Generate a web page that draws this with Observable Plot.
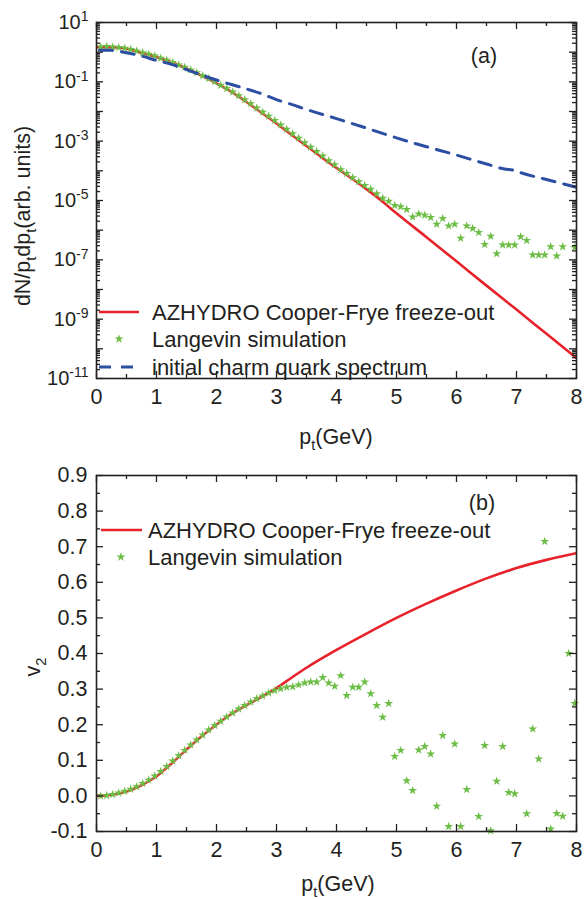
<!DOCTYPE html>
<html><head><meta charset="utf-8">
<script src="https://cdn.jsdelivr.net/npm/d3@7"></script>
<script src="https://cdn.jsdelivr.net/npm/@observablehq/plot@0.6"></script>
<style>
body{margin:0;background:#fff;}
#wrap{position:relative;width:584px;height:899px;overflow:hidden;}
#wrap svg{position:absolute;left:0;overflow:visible;}
</style></head><body><div id="wrap"></div>
<script>
// ---------- DATA ----------
// Langevin simulation points (common pt grid, GeV)
const ptStar = [0.07,0.17,0.27,0.37,0.47,0.57,0.67,0.77,0.87,0.97,1.07,1.17,1.27,1.37,1.47,1.57,1.67,1.77,1.87,1.97,
  2.07,2.17,2.27,2.37,2.47,2.57,2.67,2.77,2.87,2.97,3.07,3.17,3.27,3.37,3.47,3.57,3.67,3.77,3.87,3.97,
  4.07,4.17,4.27,4.37,4.47,4.57,4.67,4.77,4.87,4.97,5.07,5.17,5.27,5.37,5.47,5.57,5.67,5.77,5.87,5.97,
  6.07,6.17,6.27,6.37,6.47,6.57,6.67,6.77,6.87,6.97,7.07,7.17,7.27,7.37,7.47,7.57,7.67,7.77,7.87,7.97];
// panel (a): dN/ptdpt of Langevin simulation (null = not visible)
const spectrumStar = [1.51,1.55,1.51,1.45,1.35,1.23,1.10,0.955,0.851,0.741,0.631,0.537,0.447,0.372,0.309,0.251,0.204,0.162,0.129,0.100,
  0.0776,0.0603,0.0457,0.0339,0.0251,0.0182,0.0132,9.55e-3,6.92e-3,5.01e-3,3.55e-3,2.51e-3,1.78e-3,1.26e-3,8.9e-4,6.3e-4,4.5e-4,3.2e-4,2.2e-4,1.6e-4,
  1.1e-4,8.1e-5,5.9e-5,4.3e-5,3.2e-5,2.4e-5,1.7e-5,1.2e-5,9.5e-6,6.8e-6,6.2e-6,5.0e-6,2.8e-6,3.5e-6,3.2e-6,2.7e-6,1.6e-6,2.5e-6,1.4e-6,1.6e-6,
  5.4e-7,1.4e-6,1.15e-6,8.3e-7,3.3e-7,6.3e-7,1.6e-7,3.2e-7,3.2e-7,3.2e-7,6.0e-7,4.5e-7,1.45e-7,1.45e-7,1.45e-7,2.75e-7,1.35e-7,2.75e-7,null,2.6e-7];
// panel (b): v2 of Langevin simulation (null = outside the frame)
const v2Star = [0.000,0.001,0.004,0.008,0.013,0.019,0.026,0.035,0.045,0.056,0.069,0.083,0.098,0.113,0.128,0.143,0.157,0.171,0.185,0.198,
  0.210,0.222,0.233,0.244,0.254,0.264,0.273,0.281,0.289,0.296,0.301,0.305,0.307,0.312,0.317,0.320,0.320,0.333,0.317,0.308,
  0.338,0.282,0.305,0.305,0.320,0.287,0.254,0.221,0.260,0.111,0.128,0.043,0.015,0.129,0.139,0.118,-0.029,0.170,-0.086,0.146,
  -0.086,0.018,null,-0.058,0.142,-0.098,0.041,0.139,0.010,0.006,null,-0.050,0.188,0.104,0.715,-0.093,-0.049,-0.057,0.400,0.260];

// AZHYDRO Cooper-Frye freeze-out, spectrum (a)
const ptHydroA = [0,0.25,0.5,0.75,1,1.25,1.5,1.75,2,2.25,2.5,2.75,3,3.25,3.5,3.75,4,4.25,4.5,4.75,5,5.5,6,6.5,7,7.5,8];
const spectrumHydro = [1.48,1.48,1.32,0.955,0.692,0.457,0.282,0.162,0.0891,0.0457,0.0209,9.1e-3,3.98e-3,1.66e-3,6.9e-4,2.9e-4,1.26e-4,5.6e-5,2.4e-5,9.8e-6,3.7e-6,5.8e-7,8.9e-8,1.35e-8,2.1e-9,3.2e-10,4.9e-11];
// initial charm quark spectrum (a)
const ptInit = [0.05,0.25,0.5,0.75,1,1.25,1.5,1.75,2,2.25,2.5,2.75,3,3.25,3.5,4,4.5,5,5.5,6,6.5,6.8,6.95,7.1,7.5,8];
const spectrumInit = [1.15,1.15,0.955,0.741,0.525,0.389,0.257,0.17,0.115,0.0813,0.0575,0.0398,0.0251,0.0174,0.0117,5.75e-3,2.75e-3,1.29e-3,6.5e-4,3.4e-4,1.7e-4,1.15e-4,1.05e-4,8.3e-5,5.1e-5,2.8e-5];
// AZHYDRO v2 (b)
const ptHydroB = [0,0.25,0.5,0.75,1,1.25,1.5,1.75,2,2.25,2.5,2.75,3,3.25,3.5,4,4.5,5,5.5,6,6.5,7,7.5,8];
const v2Hydro = [0,0.003,0.012,0.03,0.055,0.091,0.13,0.167,0.2,0.23,0.255,0.278,0.303,0.332,0.36,0.41,0.456,0.5,0.54,0.577,0.611,0.64,0.663,0.682];

const xTicks = [0,1,2,3,4,5,6,7,8];
const xMinor = [0.5,1.5,2.5,3.5,4.5,5.5,6.5,7.5];
const logLabelTicks = [1e1,1e-1,1e-3,1e-5,1e-7,1e-9,1e-11];
const logMajor = [1e1,1,1e-1,1e-2,1e-3,1e-4,1e-5,1e-6,1e-7,1e-8,1e-9,1e-10,1e-11];
const logMinorFactors = [2,3,4,5,6,7,8,9];
const v2Ticks = [-0.1,0.0,0.1,0.2,0.3,0.4,0.5,0.6,0.7,0.8,0.9];
const v2Minor = [-0.05,0.05,0.15,0.25,0.35,0.45,0.55,0.65,0.75,0.85];

const legendA = ["AZHYDRO Cooper-Frye freeze-out","Langevin simulation","initial charm quark spectrum"];
const legendB = ["AZHYDRO Cooper-Frye freeze-out","Langevin simulation"];

// ---------- STYLE ----------
const FONT = "'Liberation Sans', Arial, Helvetica, sans-serif";
const INK = "#231f20";
const RED = "#e8222a";
const BLUE = "#2c4ea3";
const GREEN = "#6cbd45";
const W = 584, ML = 96, MR = 8;
const innerW = W - ML - MR;

const logMinor = [];
logMajor.slice(1).forEach(d => logMinorFactors.forEach(f => logMinor.push(d * f)));

const starsA = ptStar.map((p, i) => ({pt: p, v: spectrumStar[i]})).filter(d => d.v != null);
const starsB = ptStar.map((p, i) => ({pt: p, v: v2Star[i]})).filter(d => d.v != null);
const hydroA = ptHydroA.map((p, i) => ({pt: p, v: spectrumHydro[i]}));
const initA = ptInit.map((p, i) => ({pt: p, v: spectrumInit[i]}));
const hydroB = ptHydroB.map((p, i) => ({pt: p, v: v2Hydro[i]}));

function tickMarks(innerH, yMaj, yMin) {
  const s = {stroke: INK, strokeWidth: 1.3};
  return [
    Plot.tickX(xTicks, {x: d => d, insetTop: innerH - 7, ...s}),
    Plot.tickX(xTicks, {x: d => d, insetBottom: innerH - 7, ...s}),
    Plot.tickX(xMinor, {x: d => d, insetTop: innerH - 4, ...s}),
    Plot.tickX(xMinor, {x: d => d, insetBottom: innerH - 4, ...s}),
    Plot.tickY(yMaj, {y: d => d, insetRight: innerW - 7, ...s}),
    Plot.tickY(yMaj, {y: d => d, insetLeft: innerW - 7, ...s}),
    Plot.tickY(yMin, {y: d => d, insetRight: innerW - 4, ...s}),
    Plot.tickY(yMin, {y: d => d, insetLeft: innerW - 4, ...s})
  ];
}

// ---------- PANEL (a) ----------
const HA = 450, MTA = 22, MBA = 72, innerHA = HA - MTA - MBA;
const chartA = Plot.plot({
  width: W, height: HA, marginTop: MTA, marginBottom: MBA, marginLeft: ML, marginRight: MR,
  style: {fontFamily: FONT, color: INK, background: "transparent", overflow: "visible"},
  x: {domain: [0, 8]},
  y: {type: "log", domain: [1e-11, 10]},
  marks: [
    Plot.line(hydroA, {x: "pt", y: "v", stroke: RED, strokeWidth: 2.6, curve: "monotone-x", clip: true}),
    Plot.dot(starsA, {x: "pt", y: "v", symbol: "star", r: 2.8, fill: GREEN, stroke: "none", clip: true}),
    Plot.line(initA, {x: "pt", y: "v", stroke: BLUE, strokeWidth: 3, strokeDasharray: "13 9", curve: "monotone-x", clip: true}),
    ...tickMarks(innerHA, logMajor, logMinor),
    Plot.frame({stroke: INK, strokeWidth: 1.6}),
    Plot.axisX({ticks: xTicks, tickSize: 0, tickPadding: 10, fontSize: 21.5, label: null, tickFormat: d => String(d)}),
    Plot.axisY({ticks: logLabelTicks, tickSize: 0, tickPadding: 8, fontSize: 20, label: null,
      tickFormat: d => "10^" + Math.round(Math.log10(d))})
  ]
});

// ---------- PANEL (b) ----------
const HB = 449, MTB = 25, MBB = 68, innerHB = HB - MTB - MBB;
const chartB = Plot.plot({
  width: W, height: HB, marginTop: MTB, marginBottom: MBB, marginLeft: ML, marginRight: MR,
  style: {fontFamily: FONT, color: INK, background: "transparent", overflow: "visible"},
  x: {domain: [0, 8]},
  y: {domain: [-0.1, 0.9]},
  marks: [
    Plot.line(hydroB, {x: "pt", y: "v", stroke: RED, strokeWidth: 2.6, curve: "monotone-x", clip: true}),
    Plot.dot(starsB, {x: "pt", y: "v", symbol: "star", r: 2.8, fill: GREEN, stroke: "none"}),
    ...tickMarks(innerHB, v2Ticks, v2Minor),
    Plot.frame({stroke: INK, strokeWidth: 1.6}),
    Plot.axisX({ticks: xTicks, tickSize: 0, tickPadding: 10, fontSize: 21.5, label: null, tickFormat: d => String(d)}),
    Plot.axisY({ticks: v2Ticks, tickSize: 0, tickPadding: 9, fontSize: 21.5, label: null, tickFormat: d => d.toFixed(1)})
  ]
});

const wrap = document.getElementById("wrap");
chartA.style.top = "0px";
chartB.style.top = "450px";
wrap.appendChild(chartA);
wrap.appendChild(chartB);

// superscript exponents on log tick labels
d3.select(chartA).selectAll("g[aria-label='y-axis tick label'] text").each(function () {
  const t = this.textContent;
  if (!t.includes("^")) return;
  const [b, e] = t.split("^");
  const s = d3.select(this);
  s.text(null);
  s.append("tspan").text(b);
  s.append("tspan").attr("dy", "-0.55em").attr("font-size", "14px").text(e);
});

// rich text helper: parts = [[text, "n"|"sub"]]
function rich(svg, x, y, parts, {size = 21.5, anchor = "start", rotate = 0} = {}) {
  const t = d3.select(svg).append("text")
    .attr("font-family", FONT).attr("font-size", size).attr("fill", INK)
    .attr("text-anchor", anchor)
    .attr("transform", `translate(${x},${y}) rotate(${rotate})`);
  let cur = 0;
  parts.forEach(([txt, kind]) => {
    const want = kind === "sub" ? 0.3 * size : 0;
    const ts = t.append("tspan").text(txt);
    if (kind === "sub") ts.attr("font-size", size * 0.68);
    if (want !== cur) { ts.attr("dy", want - cur); cur = want; }
  });
  return t;
}

const ptLabel = [["p", "n"], ["t", "sub"], ["(GeV)", "n"]];
rich(chartA, 336, 444, ptLabel, {anchor: "middle"});
rich(chartB, 338, 441, ptLabel, {anchor: "middle"});
rich(chartA, 30, 216, [["dN/p", "n"], ["t", "sub"], ["dp", "n"], ["t", "sub"], ["(arb. units)", "n"]], {anchor: "middle", rotate: -90});
rich(chartB, 40, 217, [["v", "n"], ["2", "sub"]], {anchor: "middle", rotate: -90});
rich(chartA, 484, 63, [["(a)", "n"]], {anchor: "middle"});
rich(chartB, 482, 60, [["(b)", "n"]], {anchor: "middle"});

// legends
function legend(svg, items, entries) {
  const g = d3.select(svg).append("g");
  entries.forEach((e, i) => {
    const it = items[i];
    if (e.kind === "line") {
      g.append("line").attr("x1", e.x1).attr("x2", e.x2).attr("y1", e.y).attr("y2", e.y)
        .attr("stroke", e.color).attr("stroke-width", e.w).attr("stroke-dasharray", e.dash || null);
    } else {
      g.append("path").attr("d", d3.symbol(d3.symbolStar, 26)()).attr("fill", GREEN)
        .attr("transform", `translate(${e.cx},${e.y})`);
    }
    g.append("text").attr("x", e.tx).attr("y", e.y).attr("dy", "0.36em")
      .attr("text-anchor", "start")
      .attr("font-family", FONT).attr("font-size", 22).attr("fill", INK).text(it);
  });
}
legend(chartA, legendA, [
  {kind: "line", x1: 99, x2: 139, y: 312, color: RED, w: 2.6, tx: 152},
  {kind: "star", cx: 119, y: 339, tx: 152},
  {kind: "line", x1: 99, x2: 135, y: 367, color: BLUE, w: 3, dash: "12 10", tx: 152}
]);
legend(chartB, legendB, [
  {kind: "line", x1: 101, x2: 142, y: 80, color: RED, w: 2.6, tx: 148},
  {kind: "star", cx: 121, y: 107, tx: 148}
]);
</script></body></html>
